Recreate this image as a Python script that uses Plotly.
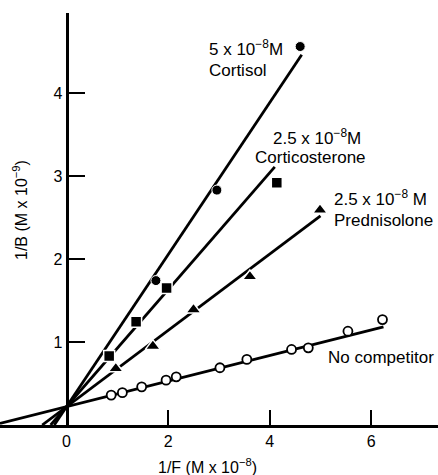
import plotly.graph_objects as go

# ---- data ----
cortisol_x = [1.76, 2.96, 4.60]
cortisol_y = [1.74, 2.83, 4.56]

corticosterone_x = [0.84, 1.37, 1.97, 4.14]
corticosterone_y = [0.83, 1.245, 1.65, 2.92]

prednisolone_x = [0.97, 1.70, 2.50, 3.61, 4.99]
prednisolone_y = [0.68, 0.95, 1.39, 1.79, 2.59]

nocomp_x = [0.88, 1.10, 1.48, 1.96, 2.16, 3.02, 3.55, 4.43, 4.76, 5.54, 6.22]
nocomp_y = [0.36, 0.39, 0.46, 0.54, 0.58, 0.69, 0.79, 0.91, 0.93, 1.13, 1.27]

# fitted lines: common intercept, slopes, and right end of each line
fit_intercept = 0.22
fit_slopes = {"cortisol": 0.916, "corticosterone": 0.705, "prednisolone": 0.46, "nocomp": 0.154}
fit_x_end = {"cortisol": 4.63, "corticosterone": 4.10, "prednisolone": 5.00, "nocomp": 6.24}

x_ticks = [0, 2, 4, 6]
y_ticks = [1, 2, 3, 4]

FONT = "Liberation Sans"
W, H = 438, 475
# pixel geometry
X0_PX, X_PX_PER = 66.5, 50.8
Y0_PX, Y_PX_PER = 425.0, 83.0
TOP_PX = 13
x_range = [-X0_PX / X_PX_PER, (W - X0_PX) / X_PX_PER]
y_range = [0, (Y0_PX - TOP_PX) / Y_PX_PER]

fig = go.Figure()

# fitted lines
for key in ["cortisol", "corticosterone", "prednisolone", "nocomp"]:
    b = fit_slopes[key]
    xs = max(-fit_intercept / b, x_range[0])
    xe = fit_x_end[key]
    fig.add_trace(go.Scatter(
        x=[xs, xe], y=[fit_intercept + b * xs, fit_intercept + b * xe],
        mode="lines", line=dict(color="black", width=2.8),
        showlegend=False, hoverinfo="skip", cliponaxis=True))

# data markers
fig.add_trace(go.Scatter(x=cortisol_x, y=cortisol_y, mode="markers",
                         marker=dict(symbol="circle", size=10, color="black",
                                     line=dict(color="white", width=1)),
                         showlegend=False, cliponaxis=False))
fig.add_trace(go.Scatter(x=corticosterone_x, y=corticosterone_y, mode="markers",
                         marker=dict(symbol="square", size=11, color="black",
                                     line=dict(color="white", width=1.5)),
                         showlegend=False, cliponaxis=False))
fig.add_trace(go.Scatter(x=prednisolone_x, y=prednisolone_y, mode="markers",
                         marker=dict(symbol="triangle-up", size=13, color="black",
                                     line=dict(color="white", width=1.5)),
                         showlegend=False, cliponaxis=False))
fig.add_trace(go.Scatter(x=nocomp_x, y=nocomp_y, mode="markers",
                         marker=dict(symbol="circle", size=9, color="white",
                                     line=dict(color="black", width=1.8)),
                         showlegend=False, cliponaxis=False))

def px_to_x(px):
    return (px - X0_PX) / X_PX_PER

def px_to_y(py):
    return (Y0_PX - py) / Y_PX_PER

labels = [
    ("5 x 10<sup>−8</sup>M", 207, 48),
    ("Cortisol", 207, 70),
    ("2.5 x 10<sup>−8</sup>M", 271, 137),
    ("Corticosterone", 253, 157),
    ("2.5 x 10<sup>−8</sup> M", 332, 198),
    ("Prednisolone", 332, 220),
    ("No competitor", 326, 357),
]
for txt, lx, ly in labels:
    fig.add_annotation(x=px_to_x(lx), y=px_to_y(ly), xref="x", yref="y",
                       text=txt, showarrow=False, xanchor="left", yanchor="middle",
                       font=dict(family=FONT, size=17, color="black"))

# axis titles
fig.add_annotation(x=207 / W, y=(Y0_PX - 466) / (Y0_PX - TOP_PX), xref="paper", yref="paper",
                   text="1/F (M x 10<sup>−8</sup>)", showarrow=False,
                   xanchor="center", yanchor="middle",
                   font=dict(family=FONT, size=16, color="black"))
fig.add_annotation(x=20 / W, y=(Y0_PX - 210) / (Y0_PX - TOP_PX), xref="paper", yref="paper",
                   text="1/B (M x 10<sup>−9</sup>)", showarrow=False, textangle=-90,
                   xanchor="center", yanchor="middle",
                   font=dict(family=FONT, size=16, color="black"))

fig.update_layout(
    width=W, height=H,
    margin=dict(l=0, r=0, t=TOP_PX, b=H - Y0_PX, pad=0),
    paper_bgcolor="white", plot_bgcolor="white",
    showlegend=False,
    xaxis=dict(range=x_range, tickvals=x_ticks, ticktext=[str(v) for v in x_ticks],
               ticks="inside", ticklen=15, tickwidth=2.2, tickcolor="black",
               showline=True, linecolor="black", linewidth=2.6,
               showgrid=False, zeroline=False,
               tickfont=dict(family=FONT, size=16, color="black")),
    yaxis=dict(range=y_range, tickvals=y_ticks, ticktext=[str(v) for v in y_ticks],
               anchor="free", position=X0_PX / W,
               ticks="inside", ticklen=17, tickwidth=2.2, tickcolor="black",
               showline=True, linecolor="black", linewidth=2.6,
               showgrid=False, zeroline=False,
               tickfont=dict(family=FONT, size=16, color="black")),
)

fig.write_html("out.html")
